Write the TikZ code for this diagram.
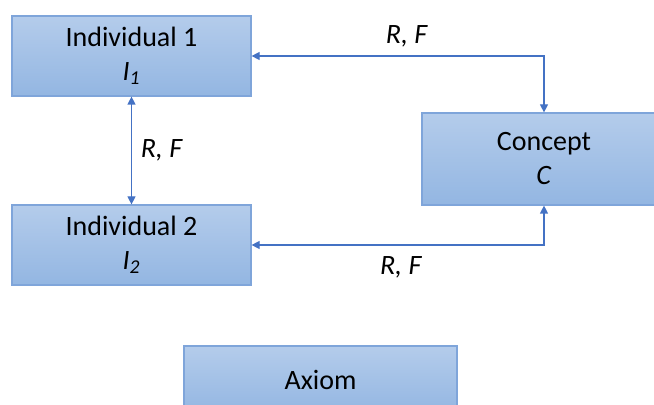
\documentclass[tikz,border=0pt]{standalone}
\usepackage{fontspec}
\setmainfont{Carlito}
\usetikzlibrary{positioning,calc,arrows.meta}
\definecolor{boxtop}{HTML}{B4CCEB}
\definecolor{boxbot}{HTML}{93B6E2}
\definecolor{boxline}{HTML}{7FA5DA}
\definecolor{linkblue}{HTML}{4472C4}
\tikzset{
  figfont/.style={font=\fontsize{14}{17}\selectfont},
  figbox/.style={draw=boxline, line width=0.6pt, top color=boxtop, bottom color=boxbot, align=center, inner sep=0pt},
  figarrow/.style={{Triangle[length=4pt,width=4pt]}-{Triangle[length=4pt,width=4pt]}, draw=linkblue, line width=0.6pt},
  figlabel/.style={font=\fontsize{14}{17}\selectfont\itshape},
}

\begin{document}
\begin{tikzpicture}[figfont, x=0.5pt, y=-0.5pt]
  \useasboundingbox (0,0) rectangle (654,405);
  \clip (0,0) rectangle (654,405);
			% Boxes
			\node[figbox, minimum width=119.5pt, minimum height=40pt] (ind1) at (131.5,56) {Individual 1\\ \textit{I}\textsubscript{\textit{1}}};
			\node[figbox, minimum width=119.5pt, minimum height=40pt] (ind2) at (131.5,245) {Individual 2\\ \textit{I}\textsubscript{\textit{2}}};
			\node[figbox, minimum width=122pt, minimum height=46pt] (concept) at (544,159) {Concept\\ \textit{C}};
			\node[figbox, minimum width=136.5pt, minimum height=34pt] (axiom) at (320.5,380) {Axiom};

		% Links
			\draw[figarrow] (ind1.east) -| node[pos=0.265, above=1pt, figlabel] {R, F} (concept.north);
			\draw[figarrow] (ind2.east) -| node[pos=0.255, below=2pt, figlabel] {R, F} (concept.south);
			\draw[figarrow] (ind1.south) -- node[right=1pt, figlabel] {R, F} (ind2.north);
		\end{tikzpicture}
\end{document}
